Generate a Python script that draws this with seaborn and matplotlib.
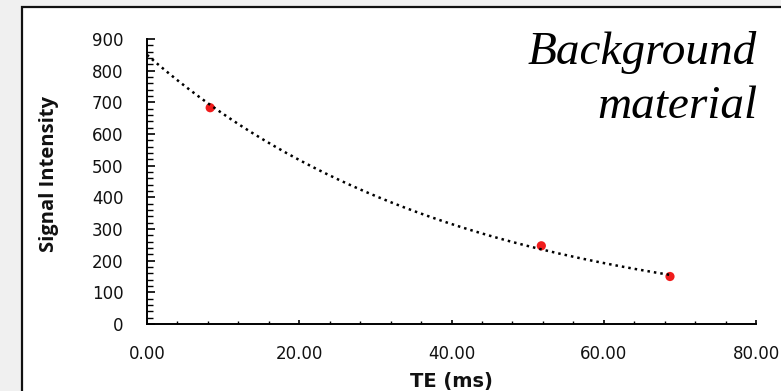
import numpy as np
import pandas as pd
import matplotlib
matplotlib.use("Agg")
import matplotlib.pyplot as plt
from matplotlib.patches import Rectangle
from matplotlib.ticker import MultipleLocator, FormatStrFormatter
import seaborn as sns

# Data
te_ms = [8.3, 51.8, 68.7]
signal = [683, 247, 150]

x_ticks = [0, 20, 40, 60, 80]
y_ticks = [0, 100, 200, 300, 400, 500, 600, 700, 800, 900]

sns.set_theme(style="white")
plt.rcParams['font.family'] = ['DejaVu Sans']

df = pd.DataFrame({"TE (ms)": te_ms, "Signal Intensity": signal})

# Exponential trendline fitted to the points (as in a spreadsheet trendline)
b, a = np.polyfit(df["TE (ms)"], np.log(df["Signal Intensity"]), 1)
fit_x = np.linspace(0, max(te_ms), 200)
fit = pd.DataFrame({"x": fit_x, "y": np.exp(a) * np.exp(b * fit_x)})

W, H = 781, 391
fig = plt.figure(figsize=(W / 100, H / 100), dpi=100)
fig.patch.set_facecolor("#f0f0f0")
fig.patches.append(Rectangle((22 / W, -0.1), 1.0, (H - 7) / H + 0.1,
                             transform=fig.transFigure, facecolor="white",
                             edgecolor="#111111", linewidth=1.6, zorder=-5))

ax = fig.add_axes([147 / W, (H - 324) / H, (756 - 147) / W, (324 - 39) / H])
ax.set_facecolor("none")
ax.set_zorder(2)

sns.scatterplot(data=df, x="TE (ms)", y="Signal Intensity", ax=ax,
                color="#f01c1c", s=44, edgecolor="none", zorder=2)
sns.lineplot(data=fit, x="x", y="y", ax=ax, color="black",
             linewidth=1.8, linestyle=(0, (1.0, 1.6)), zorder=3)

ax.set_xlim(0, 80)
ax.set_ylim(0, 900)
ax.set_xticks(x_ticks)
ax.set_yticks(y_ticks)
ax.xaxis.set_major_formatter(FormatStrFormatter("%.2f"))
ax.xaxis.set_minor_locator(MultipleLocator(4))
ax.yaxis.set_minor_locator(MultipleLocator(20))

for s in ["top", "right"]:
    ax.spines[s].set_visible(False)
for s in ["left", "bottom"]:
    ax.spines[s].set_color("black")
    ax.spines[s].set_linewidth(1.4)

ax.tick_params(axis="x", which="major", direction="in", length=3.2, width=1.2,
               color="black", pad=15, labelsize=12, labelcolor="#111111")
ax.tick_params(axis="x", which="minor", direction="in", length=2.4, width=1.0,
               color="black")
ax.tick_params(axis="y", which="major", direction="in", length=6, width=1.2,
               color="black", pad=17, labelsize=12, labelcolor="#111111")
ax.tick_params(axis="y", which="minor", direction="in", length=4, width=1.0,
               color="black")
ax.xaxis.set_ticks_position("bottom")
ax.yaxis.set_ticks_position("left")

ax.set_xlabel("TE (ms)", fontsize=14, fontweight="bold", color="#111111")
ax.set_ylabel("Signal Intensity", fontsize=14.5, fontweight="bold",
              color="#111111", family=["Open Sans", "DejaVu Sans"])
ax.xaxis.set_label_coords(0.5, -0.168)
ax.yaxis.set_label_coords(-0.145, 0.526)

fig.text(757 / W, 1 - 118 / H, "Background\nmaterial", ha="right", va="baseline",
         multialignment="right", fontsize=34, style="italic",
         family=["Liberation Serif", "DejaVu Serif"], linespacing=1.34,
         color="black", zorder=3)

fig.savefig("out.png", dpi=100, facecolor=fig.get_facecolor())
